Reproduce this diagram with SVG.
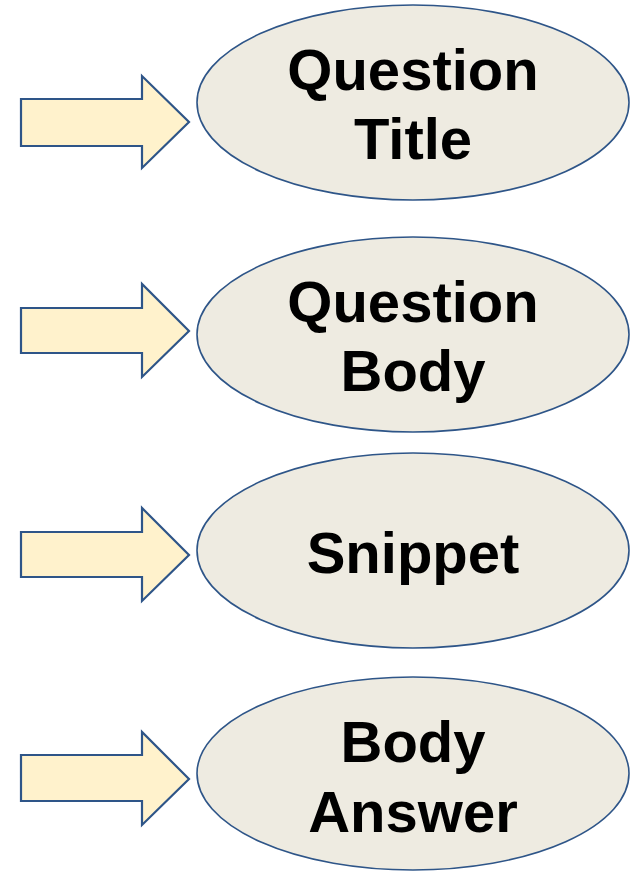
<svg xmlns="http://www.w3.org/2000/svg" width="633" height="871" viewBox="0 0 633 871">
<style>
.arrow{fill:#FFF2CC;stroke:#2E5588;stroke-width:2.2;stroke-linejoin:miter}
.node ellipse{fill:#EEEBE1;stroke:#2E5588;stroke-width:1.6}
.node text{font-family:"Liberation Sans",Arial,sans-serif;font-weight:bold;font-size:58px;fill:#000;text-anchor:middle}
</style>
<rect width="633" height="871" fill="#fff"/>
<g id="connectors">
<path class="arrow" d="M21,99 H142 V76 L189,122 L142,168 V146 H21 Z"/>
<path class="arrow" d="M21,308 H142 V284 L189,331 L142,377 V353 H21 Z"/>
<path class="arrow" d="M21,532 H142 V508 L189,555 L142,601 V577 H21 Z"/>
<path class="arrow" d="M21,755 H142 V732 L189,779 L142,825 V801 H21 Z"/>
</g>
<g id="node-question-title" class="node">
<ellipse cx="413" cy="102.5" rx="216" ry="97.5"/>
<text x="413" y="90">Question</text>
<text x="413" y="159">Title</text>
</g>
<g id="node-question-body" class="node">
<ellipse cx="413" cy="334.5" rx="216" ry="97.5"/>
<text x="413" y="322">Question</text>
<text x="413" y="391">Body</text>
</g>
<g id="node-snippet" class="node">
<ellipse cx="413" cy="550.5" rx="216" ry="97.5"/>
<text x="413" y="573">Snippet</text>
</g>
<g id="node-body-answer" class="node">
<ellipse cx="413" cy="773.5" rx="216" ry="96.5"/>
<text x="413" y="762">Body</text>
<text x="413" y="832">Answer</text>
</g>
</svg>
